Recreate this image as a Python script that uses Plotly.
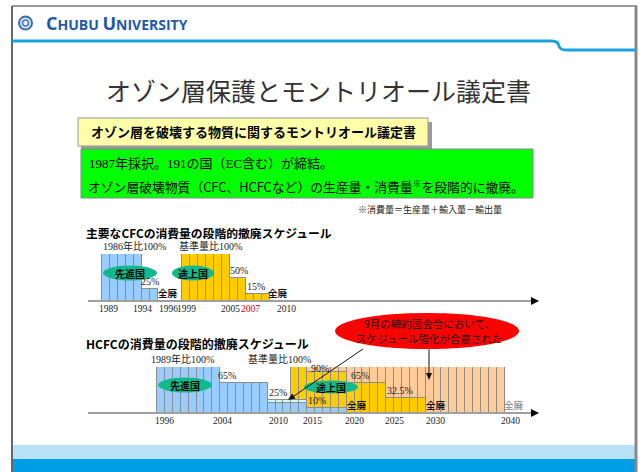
import math
import plotly.graph_objects as go

# ---------------- data ----------------
# CFC schedule (% of base level), one bar per year
cfc_dev_years = [1989, 1990, 1991, 1992, 1993, 1994, 1995]
cfc_dev_vals = [100, 100, 100, 100, 100, 25, 25]
cfc_devg_years = [1999, 2000, 2001, 2002, 2003, 2004, 2005, 2006, 2007, 2008, 2009]
cfc_devg_vals = [100, 100, 100, 100, 100, 100, 50, 50, 15, 15, 15]

# HCFC schedule
hcfc_dev_years = list(range(1996, 2020))
hcfc_dev_vals = [100] * 8 + [65] * 6 + [22] * 5 + [10] * 5
hcfc_cyan_years = [2010, 2011, 2012, 2013, 2014]
hcfc_cyan_base = [22, 22, 22, 22, 22]
hcfc_cyan_vals = [7, 7, 7, 7, 7]
hcfc_devg_years = list(range(2013, 2030))
hcfc_devg_vals = [100, 100] + [90] * 5 + [65] * 5 + [32.5] * 5
hcfc_old_years = list(range(2013, 2040))
hcfc_old_vals = [100] * 27

cfc_tick_text = ["1989", "1994", "1996", "1999", "2005", "2007", "2010"]
cfc_tick_pos = [1989.8, 1994.1, 1997.25, 1999.5, 2005.1, 2007.6, 2012.0]
hcfc_tick_text = ["1996", "2004", "2010", "2015", "2020", "2025", "2030", "2040"]
hcfc_tick_pos = [1997.0, 2004.35, 2011.4, 2015.7, 2021.0, 2026.1, 2031.2, 2040.8]

cfc_labels = ["1986年比100%", "基準量比100%", "50%", "25%", "15%", "全廃", "全廃"]
cfc_label_x = [1993.1, 2002.5, 2006.1, 1995.0, 2008.3, 1997.25, 2011.0]
cfc_label_y = [100, 100, 50, 25, 15, 0, 0]

hcfc_labels = ["1989年比100%", "基準量比100%", "65%", "25%", "90%", "10%", "65%", "32.5%", "全廃", "全廃", "全廃"]
hcfc_label_x = [1999.2, 2011.5, 2004.9, 2011.3, 2016.6, 2016.3, 2021.7, 2026.8, 2021.3, 2031.3, 2041.2]
hcfc_label_y = [100, 100, 65, 29, 90, 10, 65, 32.5, 0, 0, 0]

# ---------------- helpers ----------------
W, H = 644, 472
def px(x):
    return x / W
def py(y):
    return 1 - y / H

SERIF = "Liberation Serif, Noto Sans CJK JP"
SANS = "Noto Sans CJK JP"
EDGE = "#8c8c8c"
BLUE = "#99CCFF"
YELLOW = "#FFCC00"
PEACH = "#FFCC99"
CYAN = "#CCFFFF"
TEAL = "#12B98C"

fig = go.Figure()

def bars(years, vals, color, xa, ya, base=None):
    fig.add_trace(go.Bar(
        x=[y + 0.5 for y in years], y=vals, base=base, width=1,
        marker=dict(color=color, line=dict(color=EDGE, width=1)),
        xaxis=xa, yaxis=ya, hoverinfo="skip"))

bars(cfc_dev_years, cfc_dev_vals, BLUE, "x", "y")
bars(cfc_devg_years, cfc_devg_vals, YELLOW, "x", "y")
bars(hcfc_old_years, hcfc_old_vals, PEACH, "x2", "y2")
bars(hcfc_devg_years, hcfc_devg_vals, YELLOW, "x2", "y2")
bars(hcfc_dev_years, hcfc_dev_vals, BLUE, "x2", "y2")
bars(hcfc_cyan_years, hcfc_cyan_vals, CYAN, "x2", "y2", base=hcfc_cyan_base)

shapes = []
anns = []

def rect(x0, y0, x1, y1, fill, lc=None, lw=0):
    shapes.append(dict(type="rect", xref="paper", yref="paper",
                       x0=px(x0), x1=px(x1), y0=py(y1), y1=py(y0),
                       fillcolor=fill, line=dict(color=lc or fill, width=lw), layer="below"))

def line(x0, y0, x1, y1, color, w):
    shapes.append(dict(type="line", xref="paper", yref="paper",
                       x0=px(x0), x1=px(x1), y0=py(y0), y1=py(y1),
                       line=dict(color=color, width=w)))

def ellipse(cx, cy, rx, ry, fill, layer="above"):
    shapes.append(dict(type="circle", xref="paper", yref="paper",
                       x0=px(cx - rx), x1=px(cx + rx), y0=py(cy + ry), y1=py(cy - ry),
                       fillcolor=fill, line=dict(width=0), layer=layer))

def text(t, x, y, size, color="#000", family=SANS, xanchor="center", yanchor="middle"):
    anns.append(dict(text=t, x=px(x), y=py(y), xref="paper", yref="paper",
                     showarrow=False, font=dict(size=size, color=color, family=family),
                     xanchor=xanchor, yanchor=yanchor))

def head(x0, y0, x1, y1, color="#000", length=8, half=4):
    # filled arrowhead at (x1, y1) pointing from (x0, y0)
    d = math.hypot(x1 - x0, y1 - y0)
    ux, uy = (x1 - x0) / d, (y1 - y0) / d
    bx, by = x1 - ux * length, y1 - uy * length
    nx, ny = -uy, ux
    p = (f"M {px(bx + nx*half)} {py(by + ny*half)} L {px(x1)} {py(y1)} "
         f"L {px(bx - nx*half)} {py(by - ny*half)} Z")
    shapes.append(dict(type="path", xref="paper", yref="paper", path=p,
                       fillcolor=color, line=dict(color=color, width=0)))

def arrow(x0, y0, x1, y1, color, w, hl=8, hh=4, headcolor=None):
    d = math.hypot(x1 - x0, y1 - y0)
    ux, uy = (x1 - x0) / d, (y1 - y0) / d
    line(x0, y0, x1 - ux * (hl - 1), y1 - uy * (hl - 1), color, w)
    head(x0, y0, x1, y1, headcolor or color, hl, hh)

# ---- slide frame / header ----
rect(12, 445, 637, 459, "#B8E1F7")
rect(12, 459, 637, 472, "#009EE6")
line(12, 6, 637, 6, "#777", 1.5)
line(12, 6, 12, 472, "#666", 2)
line(636, 6, 636, 472, "#888", 3)
# blue header line with step
shapes.append(dict(type="path", xref="paper", yref="paper",
                   path=f"M {px(12)} {py(41)} L {px(552)} {py(41)} Q {px(558)} {py(41)} {px(559)} {py(46)} "
                        f"Q {px(560)} {py(50)} {px(566)} {py(50)} L {px(636)} {py(50)}",
                   line=dict(color="#1BA1E2", width=3)))
# logo
ellipse(25.5, 23, 7.5, 7.5, "#3B6DB5")
ellipse(25.5, 23, 5.5, 5.5, "#DDE8F5")
ellipse(25.5, 23, 3.8, 3.8, "#4A7BC0")
ellipse(25.5, 23, 2.2, 2.2, "#E8EFF8")
anns.append(dict(text="<b><span style='font-size:18px'>C</span>HUBU <span style='font-size:18px'>U</span>NIVERSITY</b>",
                 x=px(44), y=py(23), xref="paper", yref="paper", showarrow=False,
                 xanchor="left", yanchor="middle",
                 font=dict(size=14, color="#2258A8", family="Open Sans")))

# title
text("オゾン層保護とモントリオール議定書", 318, 90, 25, "#333")

# yellow box with shadow
rect(81, 122, 432, 150, "#9a9a9a")
rect(78, 118, 428, 146, "#FFFFAA", "#999", 1)
text("<b>オゾン層を破壊する物質に関するモントリオール議定書</b>", 253, 132, 13, "#000")

# green box
rect(81, 149, 533, 198, "#00FF00", "#888", 1)
text("1987年採択。191の国（EC含む）が締結。", 87, 163, 13, "#000", SERIF, xanchor="left")
text("オゾン層破壊物質（CFC、HCFCなど）の生産量・消費量<sup>※</sup>を段階的に撤廃。", 86, 187, 12.8, "#000", xanchor="left")
text("※消費量＝生産量＋輸入量－輸出量", 430, 209, 9, "#222")

# chart titles
text("<b>主要なCFCの消費量の段階的撤廃スケジュール</b>", 84, 232, 11.8, "#000", xanchor="left")
text("<b>HCFCの消費量の段階的撤廃スケジュール</b>", 84, 343, 12, "#000", xanchor="left")

# axis lines with arrowheads
arrow(88, 301, 539, 301, "#A0A0A0", 2, headcolor="#000")
arrow(88, 413, 539, 413, "#A0A0A0", 2, headcolor="#000")

# teal ellipses
ellipse(130, 273, 27, 7.5, TEAL)
text("<b>先進国</b>", 130, 273, 10)
ellipse(193, 273, 21, 7.5, TEAL)
text("<b>途上国</b>", 193, 273, 10)
ellipse(185, 385, 27, 7.5, TEAL)
text("<b>先進国</b>", 185, 385, 10)
ellipse(331, 387, 27, 6.5, TEAL)
text("<b>途上国</b>", 331, 387, 10)

# red ellipse + arrows
ellipse(427, 331, 92, 18, "#FF0000")
text("9月の締約国会合において、", 429, 323, 10.5, "#111")
text("スケジュール強化が合意された", 429, 338, 10.5, "#111")
arrow(363, 349, 288, 400, "#111", 1, hl=7, hh=3)
arrow(429, 349, 429, 380, "#111", 1, hl=7, hh=3)

# data-referenced labels
def dlabel(t, x, y, xr, yr, size, color="#222", family=SERIF, anchor="bottom", ysh=0):
    anns.append(dict(text=t, x=x, y=y, xref=xr, yref=yr, showarrow=False,
                     xanchor="center", yanchor=anchor, yshift=ysh,
                     font=dict(size=size, color=color, family=family)))

for t, x, y in zip(cfc_labels, cfc_label_x, cfc_label_y):
    if t == "全廃":
        dlabel("<b>全廃</b>", x, y, "x", "y", 9.5, "#111", SANS, ysh=-1)
    else:
        dlabel(t, x, y, "x", "y", 10)
for t, x, y in zip(hcfc_labels, hcfc_label_x, hcfc_label_y):
    if t == "全廃":
        col = "#999" if x > 2040 else "#111"
        dlabel("<b>全廃</b>", x, y, "x2", "y2", 9.5, col, SANS, ysh=-1)
    elif t == "90%":
        dlabel(t, x, y, "x2", "y2", 10, ysh=-4)
    else:
        dlabel(t, x, y, "x2", "y2", 10)

for t, x in zip(cfc_tick_text, cfc_tick_pos):
    dlabel(t, x, 0, "x", "y", 9.5, "#cc0000" if t == "2007" else "#222", anchor="top", ysh=-1)
for t, x in zip(hcfc_tick_text, hcfc_tick_pos):
    dlabel(t, x, 0, "x2", "y2", 9.5, anchor="top", ysh=-1)

# ---- layout ----
cfc_x0 = 1989 + (88 - 102) / 8
cfc_x1 = 1989 + (538 - 102) / 8
hc_x0 = 1996 + (88 - 157) / 7.9
hc_x1 = 1996 + (539 - 157) / 7.9

fig.update_layout(
    width=W, height=H, margin=dict(l=0, r=0, t=0, b=0),
    paper_bgcolor="white", plot_bgcolor="rgba(0,0,0,0)",
    showlegend=False, barmode="overlay", bargap=0,
    font=dict(family=SANS),
    xaxis=dict(domain=[px(88), px(538)], range=[cfc_x0, cfc_x1], visible=False, anchor="y"),
    yaxis=dict(domain=[py(301), py(254)], range=[0, 100], visible=False, anchor="x"),
    xaxis2=dict(domain=[px(88), px(539)], range=[hc_x0, hc_x1], visible=False, anchor="y2"),
    yaxis2=dict(domain=[py(413), py(367)], range=[0, 100], visible=False, anchor="x2"),
    shapes=shapes, annotations=anns,
)

fig.write_html("out.html")
